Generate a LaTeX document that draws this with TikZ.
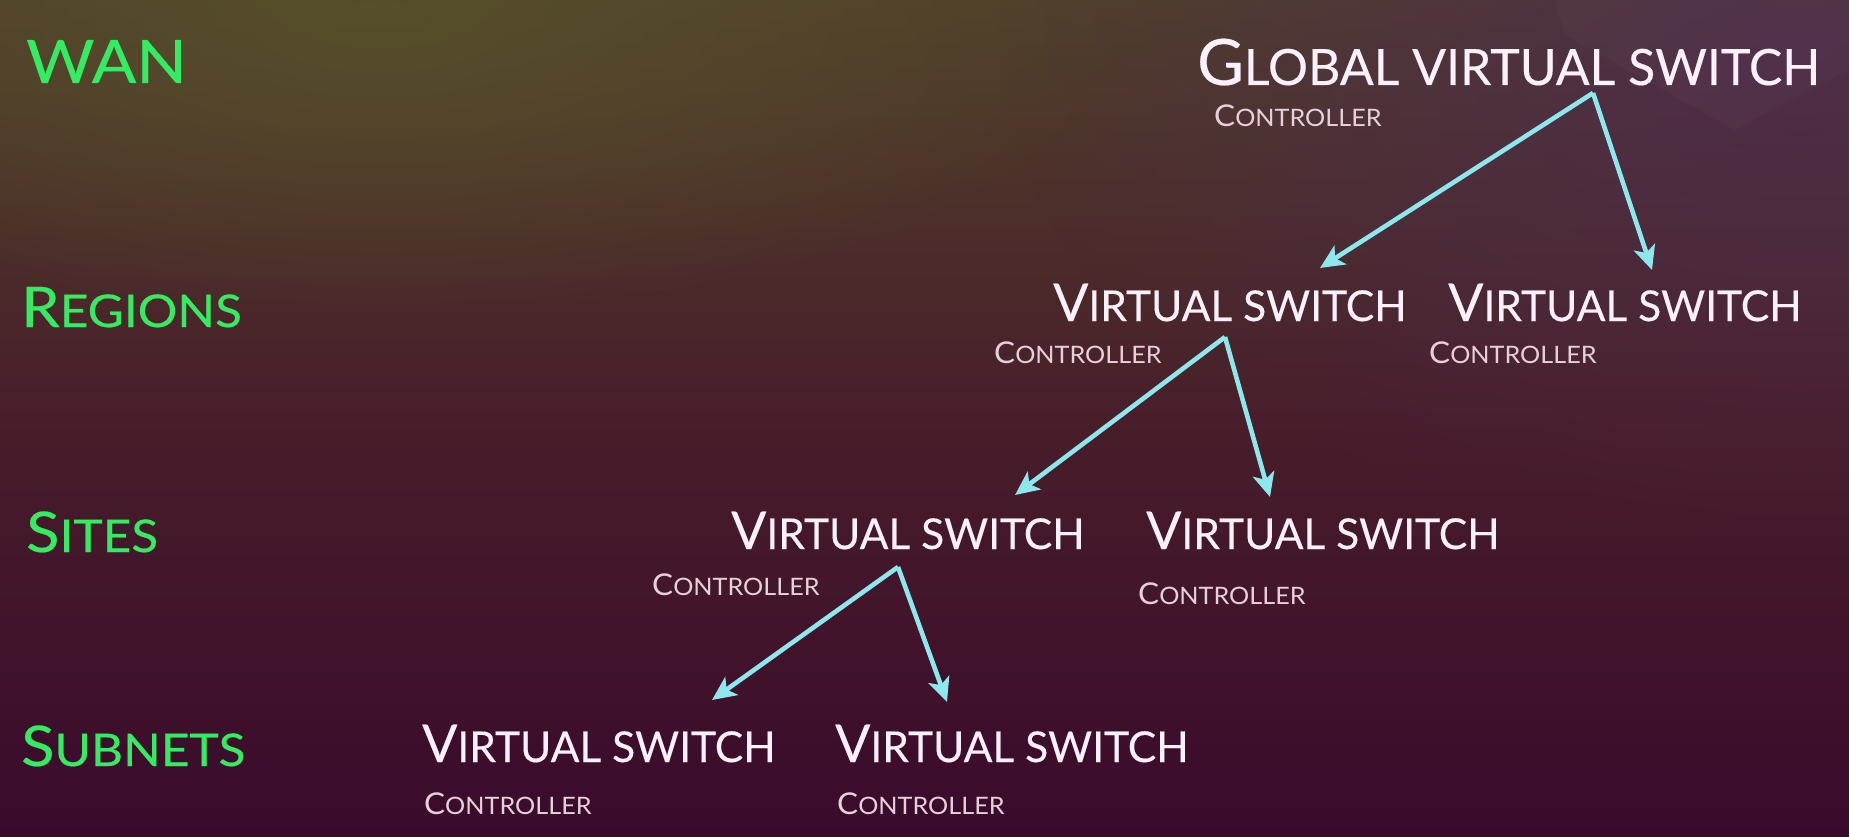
\documentclass[tikz,border=0pt]{standalone}
\usepackage{fontspec}
\setmainfont{Lato}
\newfontfamily\lvlfont[FakeStretch=1.1,FakeBold=0.4]{Lato}
\newfontfamily\ctrlfont[FakeStretch=1.05]{Lato}
\newfontfamily\vsfont[FakeBold=0.3]{Lato}
\usetikzlibrary{arrows.meta,fadings}
\tikzfading[name=softglow, inner color=transparent!0, outer color=transparent!100]
\definecolor{bgtop}{RGB}{80,64,42}
\definecolor{bgmid}{RGB}{72,30,42}
\definecolor{bgbot}{RGB}{58,10,44}
\definecolor{bgpurple}{RGB}{78,40,84}
\definecolor{olive}{RGB}{88,82,42}
\definecolor{lvlgreen}{RGB}{52,236,98}
\definecolor{vswhite}{RGB}{252,240,250}
\definecolor{ctrlpink}{RGB}{230,208,218}
\definecolor{arrowc}{RGB}{140,232,236}
\newcommand{\fsc}[4]{{\fontsize{#1}{#1}\selectfont #3}{\fontsize{#2}{#2}\selectfont #4}}
\tikzset{
  lvl/.style={anchor=base west, inner sep=0pt, text=lvlgreen, font=\lvlfont},
  vsw/.style={anchor=base west, inner sep=0pt, text=vswhite, font=\vsfont},
  ctrl/.style={anchor=base west, inner sep=0pt, text=ctrlpink, font=\ctrlfont},
  link/.style={draw=arrowc, line width=4.6pt, line join=miter,
    -{Stealth[length=24pt, width=22pt, inset=6pt]}}
}
\begin{document}
\begin{tikzpicture}[x=1pt,y=-1pt]
\useasboundingbox (0,0) rectangle (1849,837);
% background
\shade[top color=bgtop, bottom color=bgbot, middle color=bgmid] (0,0) rectangle (1849,837);
\fill[olive, path fading=softglow, opacity=0.8] (380,20) ellipse (760 and 300);
\fill[bgpurple, path fading=softglow, opacity=0.75] (1800,40) ellipse (800 and 520);
\fill[white, opacity=0.02] (1555,0) -- (1565,35) -- (1735,130) -- (1849,70) -- (1849,0) -- cycle;
% level labels
\node[lvl] (wan) at (26,83) {\fsc{60}{60}{W}{AN}};
\node[lvl] (regions) at (21,327) {\fsc{56}{45}{R}{EGIONS}};
\node[lvl] (sites) at (26,552) {\fsc{56}{45}{S}{ITES}};
\node[lvl] (subnets) at (21,766) {\fsc{56}{45}{S}{UBNETS}};
% switches
\node[vsw] (glob) at (1197,85) {\fsc{64}{50}{G}{LOBAL VIRTUAL SWITCH}};
\node[ctrl] (globc) at (1214,127) {\fsc{30}{24}{C}{ONTROLLER}};
\node[vsw] (r1) at (1053,321) {\fsc{52}{42.5}{V}{IRTUAL SWITCH}};
\node[ctrl] (r1c) at (994,363) {\fsc{30}{24}{C}{ONTROLLER}};
\node[vsw] (r2) at (1448,321) {\fsc{52}{42.5}{V}{IRTUAL SWITCH}};
\node[ctrl] (r2c) at (1429,363) {\fsc{30}{24}{C}{ONTROLLER}};
\node[vsw] (s1) at (731,549) {\fsc{52}{42.5}{V}{IRTUAL SWITCH}};
\node[ctrl] (s1c) at (652,595) {\fsc{30}{24}{C}{ONTROLLER}};
\node[vsw] (s2) at (1146,549) {\fsc{52}{42.5}{V}{IRTUAL SWITCH}};
\node[ctrl] (s2c) at (1138,604) {\fsc{30}{24}{C}{ONTROLLER}};
\node[vsw] (n1) at (422,762) {\fsc{52}{42.5}{V}{IRTUAL SWITCH}};
\node[ctrl] (n1c) at (424,814) {\fsc{30}{24}{C}{ONTROLLER}};
\node[vsw] (n2) at (835,762) {\fsc{52}{42.5}{V}{IRTUAL SWITCH}};
\node[ctrl] (n2c) at (837,814) {\fsc{30}{24}{C}{ONTROLLER}};
% connector end points
\coordinate (glob-out) at (1593,93);
\coordinate (r1-in) at (1320,268);
\coordinate (r2-in) at (1652,270);
\coordinate (r1-out) at (1225,337);
\coordinate (s1-in) at (1015,495);
\coordinate (s2-in) at (1270,497);
\coordinate (s1-out) at (898,567);
\coordinate (n1-in) at (712,700);
\coordinate (n2-in) at (947,702);
% connectors
\draw[link] (glob-out) -- (r1-in);
\draw[link] (glob-out) -- (r2-in);
\draw[link] (r1-out) -- (s1-in);
\draw[link] (r1-out) -- (s2-in);
\draw[link] (s1-out) -- (n1-in);
\draw[link] (s1-out) -- (n2-in);
\end{tikzpicture}
\end{document}
